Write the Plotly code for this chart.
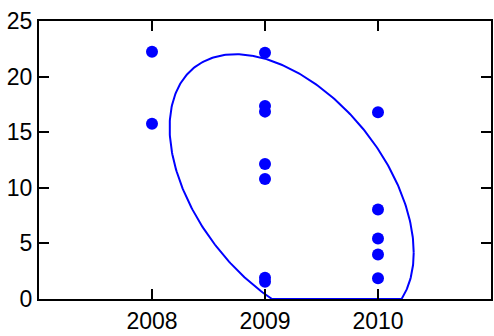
import numpy as np
import plotly.graph_objects as go

# scatter data
years = [2008, 2008,
         2009, 2009, 2009, 2009, 2009, 2009, 2009,
         2010, 2010, 2010, 2010, 2010]
values = [22.24, 15.76,
          22.15, 17.35, 16.85, 12.14, 10.8, 1.92, 1.56,
          16.8, 8.05, 5.45, 4.0, 1.86]

# ellipse parameters (center, half-extents, correlation)
ell_cx, ell_cy = 2009.236, 9.79
ell_kx, ell_ky = 1.080, 12.22
ell_rho = -0.46

x_ticks = [2008, 2009, 2010]
y_ticks = [0, 5, 10, 15, 20, 25]

t = np.linspace(0, 2 * np.pi, 400)
ex = ell_cx + ell_kx * np.cos(t)
ey = ell_cy + ell_ky * (ell_rho * np.cos(t) + np.sqrt(1 - ell_rho ** 2) * np.sin(t))
ey = np.maximum(ey, 0)

fig = go.Figure()
fig.add_trace(go.Scatter(x=years, y=values, mode="markers",
                         marker=dict(color="#0000FF", size=12, line=dict(width=0)),
                         showlegend=False, cliponaxis=False))
fig.add_trace(go.Scatter(x=ex, y=ey, mode="lines",
                         line=dict(color="#0000FF", width=2),
                         showlegend=False, cliponaxis=False))

axis_common = dict(showline=True, linecolor="black", linewidth=2, mirror="ticks",
                   ticks="inside", ticklen=10, tickwidth=2, tickcolor="black",
                   showgrid=False, zeroline=False,
                   tickfont=dict(family="Liberation Sans, Arial", size=23, color="black"))

fig.update_layout(
    width=494, height=336,
    margin=dict(l=39, r=1, t=21, b=37),
    paper_bgcolor="white", plot_bgcolor="white",
    xaxis=dict(range=[2007, 2011], tickvals=x_ticks, ticktext=[str(v) for v in x_ticks], **axis_common),
    yaxis=dict(range=[0, 25], tickvals=y_ticks, ticktext=[str(v) for v in y_ticks], **axis_common),
)

fig.write_html("out.html")
